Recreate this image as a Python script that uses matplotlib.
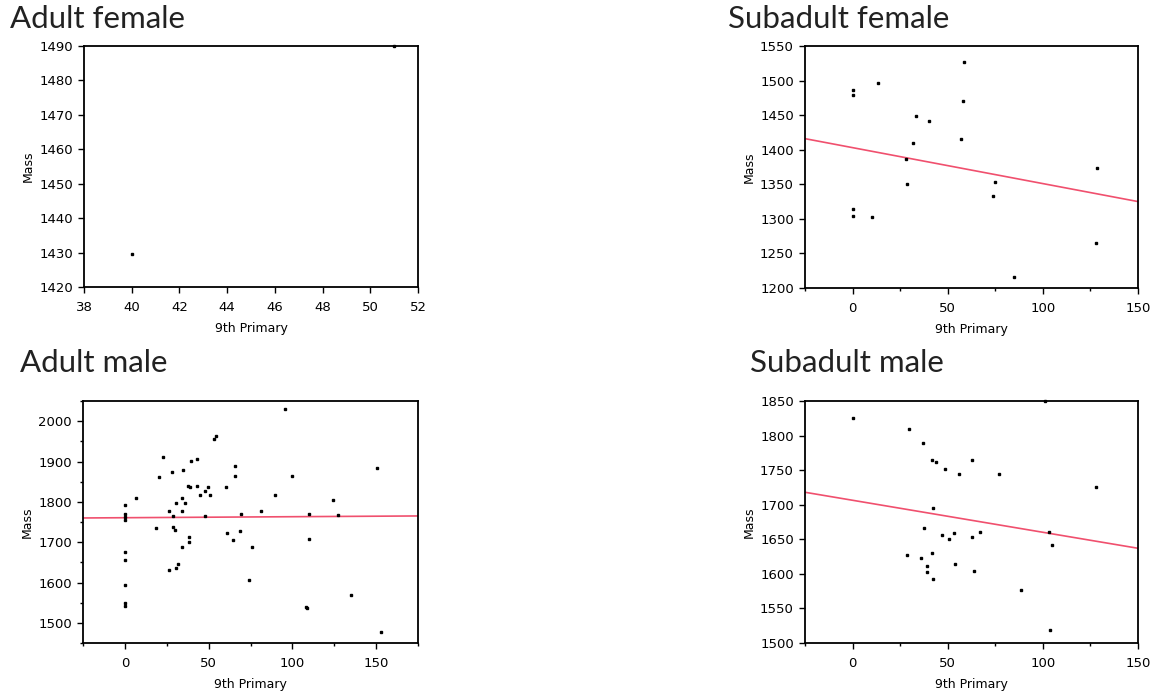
import matplotlib
matplotlib.use("Agg")
import matplotlib.pyplot as plt
from matplotlib.ticker import MultipleLocator, NullLocator

# data
af_x = [40, 51]
af_y = [1429.5, 1490]

sf_x = [0, 0, 13.6, 0, 0, 10.4, 33.4, 40, 31.8, 28.2, 28.7, 58.8, 58.1, 56.9,
        74.6, 73.9, 128.2, 127.7, 84.9]
sf_y = [1486, 1479, 1497, 1314, 1304, 1302, 1449, 1441, 1409, 1387, 1350, 1527,
        1471, 1415, 1354, 1333, 1374, 1265, 1216]
sf_fit_x = [-25, 150]
sf_fit_y = [1416, 1325]

am_x = [0, 0, 0, 0, 0, 0, 0, 0, 0, 6.4, 18.7, 20.4, 22.8, 26.4, 26.4, 28.2,
        28.8, 28.8, 30, 30.8, 30.8, 32, 34.1, 34.1, 34.3, 34.5, 35.9, 37.7, 39,
        38.5, 38.5, 39.5, 42.9, 43, 44.6, 47.8, 48, 49.8, 50.8, 53.2, 54.6, 60.3,
        61.1, 64.5, 65.7, 65.7, 69.6, 68.8, 74.2, 76, 81, 89.9, 95.8, 99.6,
        109.7, 109.7, 108.3, 108.8, 124, 127.2, 134.9, 150.4, 153.2]
am_y = [1792, 1770, 1762, 1755, 1676, 1657, 1593, 1548, 1541, 1810, 1734, 1862,
        1912, 1778, 1630, 1874, 1764, 1737, 1731, 1798, 1636, 1645, 1810, 1778,
        1688, 1878, 1798, 1839, 1837, 1713, 1700, 1901, 1839, 1905, 1818, 1828,
        1764, 1837, 1818, 1957, 1962, 1838, 1723, 1705, 1888, 1865, 1769, 1728,
        1605, 1688, 1778, 1817, 2030, 1865, 1769, 1708, 1540, 1537, 1805, 1768,
        1568, 1885, 1478]
am_fit_x = [-25, 175]
am_fit_y = [1760, 1765]

sm_x = [0, 101.1, 29.6, 37.2, 41.6, 44, 48.5, 56, 63, 76.7, 127.7, 42.3, 37.8,
        47, 53.1, 50.6, 63, 66.8, 103.2, 104.7, 28.7, 36.2, 41.6, 39.3, 39.3,
        42.3, 53.9, 63.9, 88.7, 103.9]
sm_y = [1825, 1850, 1810, 1789, 1764, 1762, 1751, 1744, 1764, 1745, 1726, 1695,
        1666, 1656, 1659, 1650, 1653, 1661, 1660, 1642, 1627, 1623, 1630, 1612,
        1602, 1592, 1614, 1604, 1577, 1519]
sm_fit_x = [-25, 150]
sm_fit_y = [1718, 1637]

W, H = 1154, 696
fig = plt.figure(figsize=(W / 100, H / 100), dpi=100)

tick_font = "DejaVu Sans"
title_font = "Lato"
red = "#f0506e"


def make_panel(box, x, y, xlim, ylim, xmaj, ymaj, fit=None,
               xminor=True, yminor=True):
    l, t, r, b = box
    ax = fig.add_axes([l / W, 1 - b / H, (r - l) / W, (b - t) / H])
    if fit is not None:
        ax.plot(fit[0], fit[1], color=red, lw=1.2, zorder=2)
    ax.plot(x, y, "s", color="black", ms=1.7, zorder=3, clip_on=False)
    ax.set_xlim(*xlim)
    ax.set_ylim(*ylim)
    ax.xaxis.set_major_locator(MultipleLocator(xmaj))
    ax.yaxis.set_major_locator(MultipleLocator(ymaj))
    ax.xaxis.set_minor_locator(MultipleLocator(xmaj / 2) if xminor else NullLocator())
    ax.yaxis.set_minor_locator(MultipleLocator(ymaj / 2) if yminor else NullLocator())
    ax.tick_params(which="major", direction="out", length=4, width=1,
                   labelsize=9.5)
    ax.tick_params(axis="x", which="major", pad=6)
    ax.tick_params(axis="y", which="major", pad=4)
    ax.tick_params(which="minor", direction="out", length=2, width=1)
    for lab in ax.get_xticklabels() + ax.get_yticklabels():
        lab.set_family(tick_font)
    for s in ax.spines.values():
        s.set_linewidth(1.3)
    ax.set_ylabel("Mass", fontsize=9, family=tick_font, labelpad=3)
    ax.set_xlabel("9th Primary", fontsize=9, family=tick_font, labelpad=6)
    return ax


make_panel((84, 46, 418, 287), af_x, af_y, (38, 52), (1420, 1490), 2, 10,
           xminor=False, yminor=False)
make_panel((805, 46, 1138, 288), sf_x, sf_y, (-25, 150), (1200, 1550), 50, 50,
           fit=(sf_fit_x, sf_fit_y), yminor=False)
make_panel((83, 401, 418, 643), am_x, am_y, (-25, 175), (1450, 2050), 50, 100,
           fit=(am_fit_x, am_fit_y))
make_panel((805, 401, 1138, 643), sm_x, sm_y, (-25, 150), (1500, 1850), 50, 50,
           fit=(sm_fit_x, sm_fit_y), yminor=False)

titles = [("Adult female", 10, 28), ("Subadult female", 728, 28),
          ("Adult male", 20, 372), ("Subadult male", 750, 372)]
for txt, px, py in titles:
    fig.text(px / W, 1 - py / H, txt, fontsize=22.5, family=title_font,
             color="#222222", ha="left", va="baseline")

fig.savefig("out.png", dpi=100)
